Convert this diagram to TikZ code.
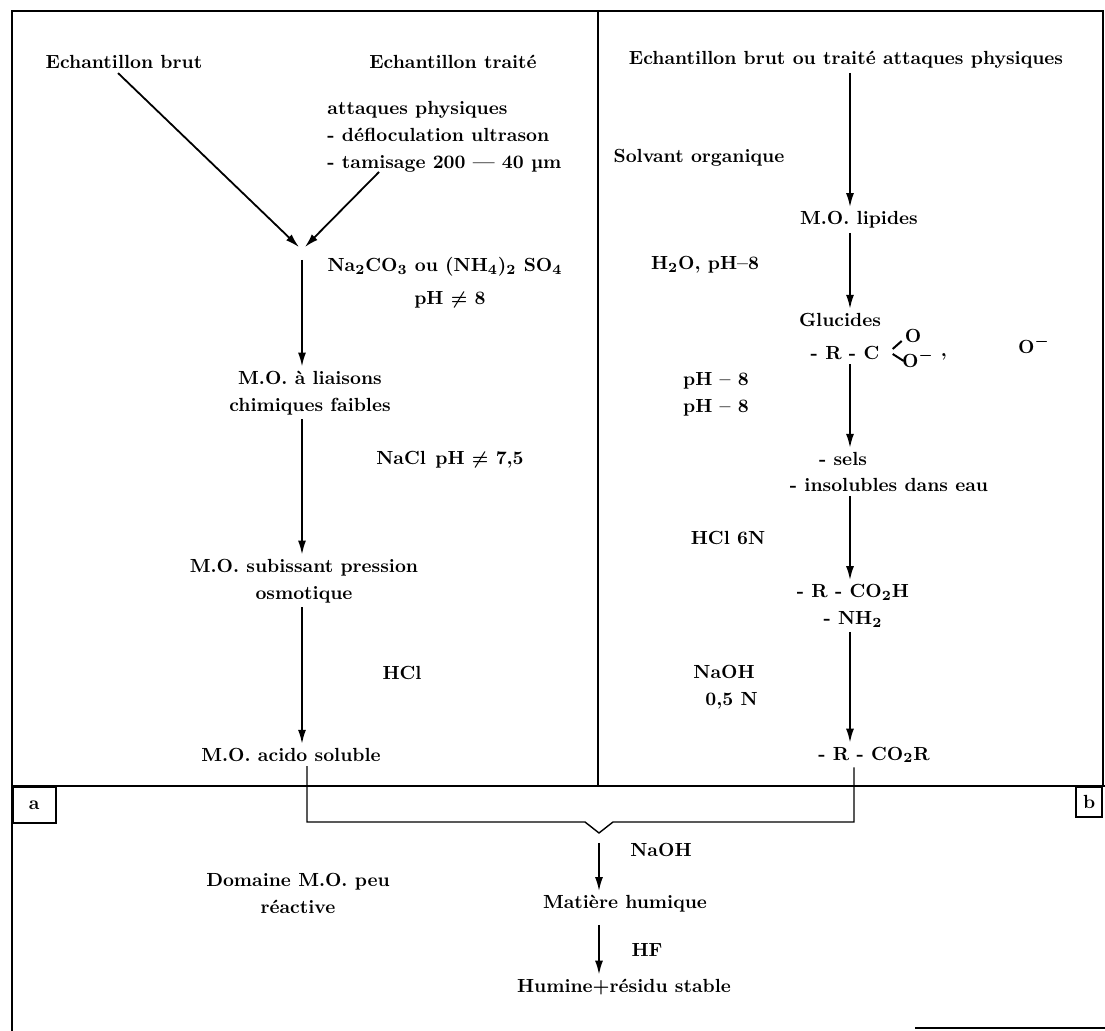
\documentclass[tikz,border=0pt]{standalone}
\usepackage{tikz}
\usetikzlibrary{positioning}
\usetikzlibrary{arrows.meta}
\tikzset{x=0.5pt, y=-0.5pt,
every node/.style={ % Sets the properties for each label
inner sep=2pt,
align=center,
font=\fontsize{9.5}{13.5}\selectfont\bfseries\boldmath},
frame/.style={ % Lines of the outer frame
draw,
line width=1.2pt},
flow/.style={ % Reaction arrows, filled narrow head
draw,
line width=0.9pt,
-{Latex[length=7pt,width=4pt]}},
brace/.style={draw, line width=0.7pt}, % Collecting bracket
bond/.style={draw, line width=1pt},
tag/.style={draw, line width=0.8pt, inner sep=0pt}}

\begin{document}
\begin{tikzpicture}
\useasboundingbox (0,0) rectangle (1105,1031);
\draw[frame] (12,1031) -- (12,11) -- (1103,11) -- (1103,786);
\draw[frame] (12,786) -- (1105,786);
\draw[frame] (598,11) -- (598,786);
\draw[frame] (915,1028) -- (1105,1028);
\node[tag, anchor=north west, minimum width=21.5pt, minimum height=18pt] (tagA) at (12,786) {a};
\node[tag, anchor=north east, minimum width=13pt, minimum height=15pt] (tagB) at (1103,786) {b};

\node (brut) at (124,62) {Echantillon brut};
\node (traite) at (453,62) {Echantillon traité};
\node[align=left, anchor=north west] (attaques) at (323,97) {attaques physiques\\- défloculation ultrason\\- tamisage 200 --- 40 µm};
\coordinate (tamis) at (379,172);
\coordinate (join) at (302,250);
\node (reactifA) at (445,267) {Na$_2$CO$_3$ ou (NH$_4$)$_2$ SO$_4$};
\node (phA) at (450,300) {pH $\neq$ 8};
\node (liaisons) at (310,393) {M.O. à liaisons\\chimiques faibles};
\node (nacl) at (450,460) {NaCl\enspace pH $\neq$ 7,5};
\node (subissant) at (304,581) {M.O. subissant pression\\osmotique};
\node (hcl) at (402,673) {HCl};
\node (acido) at (291,755) {M.O. acido soluble};

\coordinate (axR) at (850,0);
\node (sourceR) at (846,60) {Echantillon brut ou traité attaques physiques};
\node (solvant) at (699,158) {Solvant organique};
\node (lipides) at (859,220) {M.O. lipides};
\node (eau) at (705,265) {H$_2$O, pH–8};
\node (glucides) at (840,320) {Glucides};
\node (carbox) at (845,353) {- R - C};
\node (oup) at (913,336) {O};
\node (odown) at (918,359) {O$^-$};
\node (virgule) at (944,357) {,};
\node (oion) at (1034,345) {O$^-$};
\node (phB) at (716,394) {pH – 8\\pH – 8};
\node (sels) at (843,459) {- sels};
\node (insol) at (889,485) {- insolubles dans eau};
\node (hcl6) at (728,538) {HCl 6N};
\node (acid) at (853,606) {- R - CO$_2$H\\- NH$_2$};
\node[align=left, anchor=west] (naohB) at (689,687) {NaOH\\\hspace*{6pt}0,5 N};
\node (ester) at (874,755) {- R - CO$_2$R};

\coordinate (brL) at (307,822);
\coordinate (vL) at (585,822);
\coordinate (vtip) at (599,833);
\coordinate (vR) at (613,822);
\coordinate (brR) at (854,822);
\node (domaine) at (298,893) {Domaine M.O. peu\\réactive};
\node (naohC) at (661,850) {NaOH};
\node (humique) at (625,904) {Matière humique};
\node (hf) at (647,950) {HF};
\node (humine) at (624,987) {Humine+résidu stable};

\draw[flow, shorten >=2pt] ([xshift=-3pt]brut.south) -- (join);
\draw[flow, shorten >=2pt] (tamis) -- (join);
\draw[flow] ([yshift=-5pt]join) -- (liaisons.north -| join);
\draw[flow] (liaisons.south -| join) -- (subissant.north -| join);
\draw[flow] (subissant.south -| join) -- (acido.north -| join);

\draw[flow] (sourceR.south -| axR) -- (lipides.north -| axR);
\draw[flow] (lipides.south -| axR) -- (glucides.north -| axR);
\draw[bond] ([shift={(9,-4)}]carbox.east) -- ([shift={(18,-12)}]carbox.east);
\draw[bond] ([shift={(9,1)}]carbox.east) -- ([shift={(20,8)}]carbox.east);
\draw[flow] (carbox.south -| axR) -- (sels.north -| axR);
\draw[flow] (insol.south -| axR) -- (acid.north -| axR);
\draw[flow] (acid.south -| axR) -- (ester.north -| axR);

\draw[brace] (acido.south -| brL) -- (brL) -- (vL) -- (vtip) -- (vR) -- (brR) -- (ester.south -| brR);
\draw[flow] ([yshift=-5pt]vtip) -- (humique.north -| vtip);
\draw[flow, shorten <=4pt] (humique.south -| vtip) -- (humine.north -| vtip);
\end{tikzpicture}
\end{document}
